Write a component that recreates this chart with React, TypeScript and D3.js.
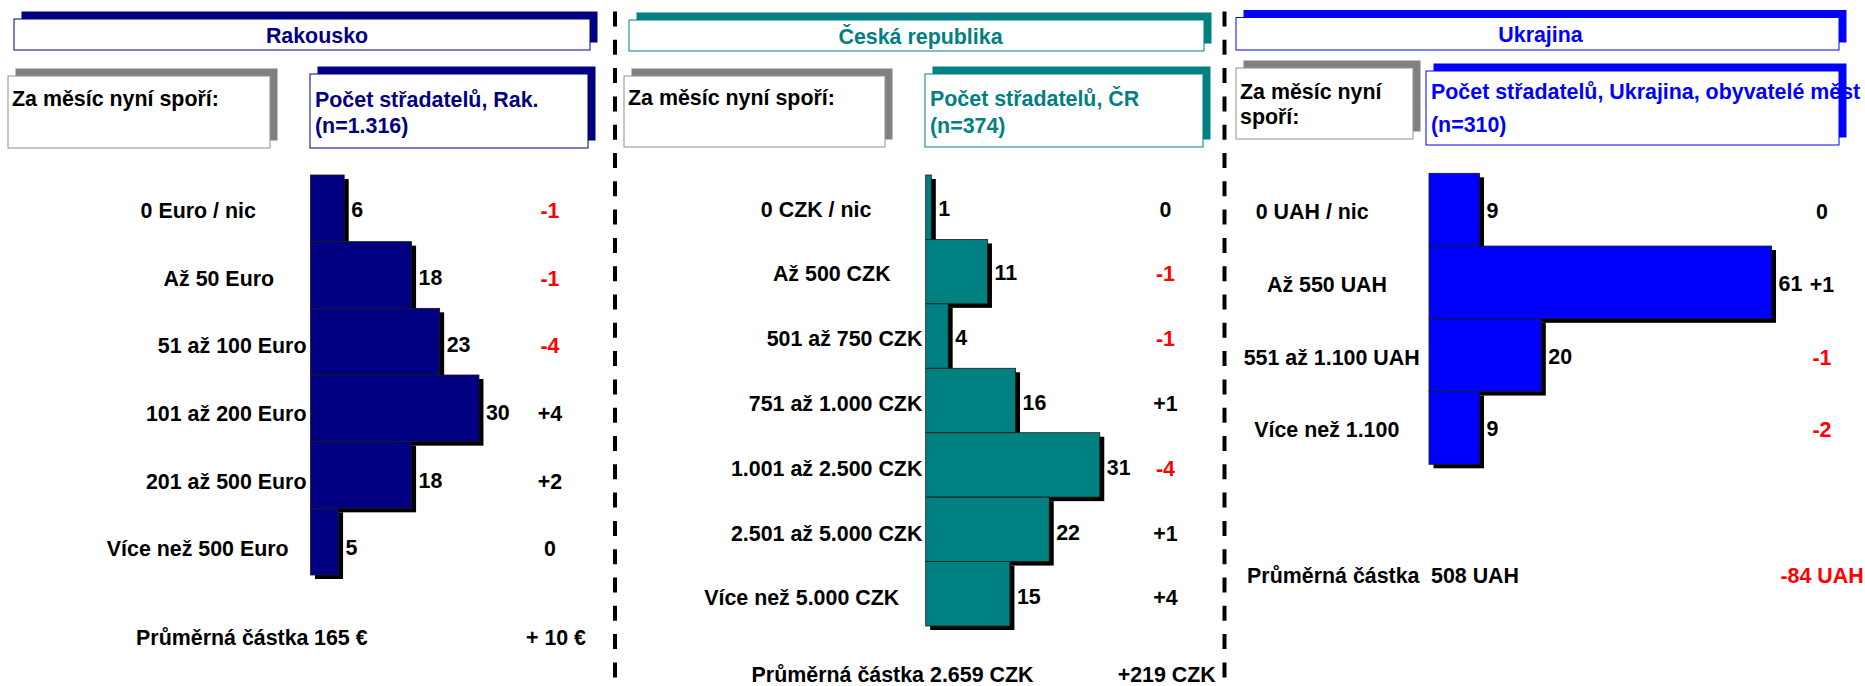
import { useEffect, useRef } from "react";
import * as d3 from "d3";

// --- data ---
const austriaCategories = [
  "0 Euro / nic",
  "Až 50 Euro",
  "51 až 100 Euro",
  "101 až 200 Euro",
  "201 až 500 Euro",
  "Více než 500 Euro",
];
const austriaValues = [6, 18, 23, 30, 18, 5];
const austriaChanges = ["-1", "-1", "-4", "+4", "+2", "0"];

const czechCategories = [
  "0 CZK / nic",
  "Až 500 CZK",
  "501 až 750 CZK",
  "751 až 1.000 CZK",
  "1.001 až 2.500 CZK",
  "2.501 až 5.000 CZK",
  "Více než 5.000 CZK",
];
const czechValues = [1, 11, 4, 16, 31, 22, 15];
const czechChanges = ["0", "-1", "-1", "+1", "-4", "+1", "+4"];

const ukraineCategories = ["0 UAH / nic", "Až 550 UAH", "551 až 1.100 UAH", "Více než 1.100"];
const ukraineValues = [9, 61, 20, 9];
const ukraineChanges = ["0", "+1", "-1", "-2"];

const averageLabel = "Průměrná částka";
const averages = ["165 €", "2.659 CZK", "508 UAH"];
const averageChanges = ["+ 10 €", "+219 CZK", "-84 UAH"];

const countryTitles = ["Rakousko", "Česká republika", "Ukrajina"];
const countLines = [
  ["Počet střadatelů, Rak.", "(n=1.316)"],
  ["Počet střadatelů, ČR", "(n=374)"],
  ["Počet střadatelů, Ukrajina, obyvatelé měst", "(n=310)"],
];
const questionLines = [["Za měsíc nyní spoří:"], ["Za měsíc nyní spoří:"], ["Za měsíc nyní", "spoří:"]];

// --- layout / style ---
const W = 1865;
const H = 686;
const FONT = "'Liberation Sans', Arial, Helvetica, sans-serif";
const colors = ["#000080", "#008080", "#0000ff"];

type Box = [number, number, number, number];
interface Layout {
  title: Box;
  titleShift: number;
  left: Box;
  right: Box;
  barX: number;
  bandTop: number;
  bandBottom: number;
  changeX: number;
  labelShift: number[];
  drift: number;
  leftBase: number[];
  rightBase: number[];
  avgBase: number;
  avgLabelEnd: number;
  avgValueX: number;
  avgChangeX: number;
}

const layouts: Layout[] = [
  {
    title: [14, 19, 576, 31],
    titleShift: 15,
    left: [8, 76, 262, 72],
    right: [310, 74, 278, 74],
    barX: 310.5,
    bandTop: 175,
    bandBottom: 575,
    changeX: 550,
    labelShift: [-54.6, -36.4, -4, -4, -4, -21.8],
    drift: 1,
    leftBase: [30],
    rightBase: [32.5, 59],
    avgBase: 645,
    avgLabelEnd: 308.5,
    avgValueX: 314,
    avgChangeX: 556,
  },
  {
    title: [629, 20, 575, 31],
    titleShift: 4,
    left: [624, 76, 261, 71],
    right: [925, 74, 278, 73],
    barX: 925.7,
    bandTop: 175,
    bandBottom: 626,
    changeX: 1165.5,
    labelShift: [-54.3, -35.1, -3.3, -3.3, -3.3, -3.3, -26.5],
    drift: 0.35,
    leftBase: [29],
    rightBase: [32, 59.3],
    avgBase: 681.5,
    avgLabelEnd: 924,
    avgValueX: 930,
    avgChangeX: 1166.7,
  },
  {
    title: [1236, 17.5, 603, 32.5],
    titleShift: 3,
    left: [1236, 68, 177, 71],
    right: [1426, 71, 413, 74],
    barX: 1429,
    bandTop: 173.3,
    bandBottom: 464.3,
    changeX: 1822,
    labelShift: [-60.3, -42, -9.3, -29.7],
    drift: 0,
    leftBase: [30.5, 55.5],
    rightBase: [28, 60.5],
    avgBase: 583.3,
    avgLabelEnd: 1419.5,
    avgValueX: 1431,
    avgChangeX: 1822,
  },
];

const separators = [615, 1224.5];

export default function App() {
  const ref = useRef<SVGSVGElement>(null);

  useEffect(() => {
    if (!ref.current) return;
    const svg = d3.select(ref.current);
    svg.selectAll("*").remove();

    // same px-per-percent for all three panels
    const xScale = d3.scaleLinear().domain([0, 100]).range([0, 561.5]);

    const panelData = [
      { categories: austriaCategories, values: austriaValues, changes: austriaChanges },
      { categories: czechCategories, values: czechValues, changes: czechChanges },
      { categories: ukraineCategories, values: ukraineValues, changes: ukraineChanges },
    ];

    const drawBox = (
      g: d3.Selection<SVGGElement, unknown, null, undefined>,
      b: Box,
      shadow: string,
      border: string
    ) => {
      g.append("rect")
        .attr("x", b[0] + 7.5)
        .attr("y", b[1] - 7.5)
        .attr("width", b[2])
        .attr("height", b[3])
        .attr("fill", shadow);
      g.append("rect")
        .attr("x", b[0])
        .attr("y", b[1])
        .attr("width", b[2])
        .attr("height", b[3])
        .attr("fill", "#ffffff")
        .attr("stroke", border)
        .attr("stroke-width", 1);
    };

    panelData.forEach((p, i) => {
      const L = layouts[i];
      const color = colors[i];
      const g = svg.append("g").attr("font-family", FONT).attr("font-weight", "bold").attr("font-size", 21.4);

      // title
      drawBox(g, L.title, color, color);
      g.append("text")
        .attr("x", L.title[0] + L.title[2] / 2 + L.titleShift)
        .attr("y", L.title[1] + L.title[3] / 2 + 8)
        .attr("text-anchor", "middle")
        .attr("fill", color)
        .text(countryTitles[i]);

      // question box
      drawBox(g, L.left, "#808080", "#909090");
      questionLines[i].forEach((line, k) => {
        g.append("text")
          .attr("x", L.left[0] + 4)
          .attr("y", L.left[1] + L.leftBase[k])
          .attr("fill", "#000000")
          .text(line);
      });

      // count box
      drawBox(g, L.right, color, color);
      countLines[i].forEach((line, k) => {
        g.append("text")
          .attr("x", L.right[0] + 5)
          .attr("y", L.right[1] + L.rightBase[k])
          .attr("fill", color)
          .text(line);
      });

      const yScale = d3.scaleBand().domain(p.categories).range([L.bandTop, L.bandBottom]).padding(0);

      // bar shadows
      g.selectAll("rect.shadow")
        .data(p.values)
        .enter()
        .append("rect")
        .attr("class", "shadow")
        .attr("x", L.barX + 4.5)
        .attr("y", (_, j) => (yScale(p.categories[j]) || 0) + 4)
        .attr("width", (d) => xScale(d))
        .attr("height", yScale.bandwidth())
        .attr("fill", "#000000");

      // bars
      g.selectAll("rect.bar")
        .data(p.values)
        .enter()
        .append("rect")
        .attr("class", "bar")
        .attr("x", L.barX)
        .attr("y", (_, j) => yScale(p.categories[j]) || 0)
        .attr("width", (d) => xScale(d))
        .attr("height", yScale.bandwidth())
        .attr("fill", color)
        .attr("stroke", "#1a1a1a")
        .attr("stroke-width", 0.8);

      const mid = (j: number) =>
        (yScale(p.categories[j]) || 0) + yScale.bandwidth() / 2 + j * L.drift;

      // category labels
      p.categories.forEach((c, j) => {
        g.append("text")
          .attr("x", L.barX + L.labelShift[j])
          .attr("y", mid(j) + 9.5)
          .attr("text-anchor", "end")
          .attr("fill", "#000000")
          .text(c);
      });

      // value labels
      p.values.forEach((v, j) => {
        g.append("text")
          .attr("x", L.barX + xScale(v) + 7)
          .attr("y", mid(j) + 8.5)
          .attr("fill", "#000000")
          .text(v);
      });

      // change column
      p.changes.forEach((c, j) => {
        g.append("text")
          .attr("x", L.changeX)
          .attr("y", mid(j) + 9.5)
          .attr("text-anchor", "middle")
          .attr("fill", c.startsWith("-") ? "#ff0000" : "#000000")
          .text(c);
      });

      // average amount
      g.append("text")
        .attr("x", L.avgLabelEnd)
        .attr("y", L.avgBase)
        .attr("text-anchor", "end")
        .attr("fill", "#000000")
        .text(averageLabel);
      g.append("text")
        .attr("x", L.avgValueX)
        .attr("y", L.avgBase)
        .attr("fill", "#000000")
        .text(averages[i]);
      g.append("text")
        .attr("x", L.avgChangeX)
        .attr("y", L.avgBase)
        .attr("text-anchor", "middle")
        .attr("fill", averageChanges[i].startsWith("-") ? "#ff0000" : "#000000")
        .text(averageChanges[i]);
    });

    // dashed separators
    svg
      .selectAll("line.sep")
      .data(separators)
      .enter()
      .append("line")
      .attr("class", "sep")
      .attr("x1", (d) => d)
      .attr("x2", (d) => d)
      .attr("y1", 11.5)
      .attr("y2", H)
      .attr("stroke", "#000000")
      .attr("stroke-width", 4)
      .attr("stroke-dasharray", "15 13.3");
  }, []);

  return (
    <svg
      ref={ref}
      width={W}
      height={H}
      style={{ position: "absolute", left: 0, top: 0, background: "#ffffff" }}
    />
  );
}
